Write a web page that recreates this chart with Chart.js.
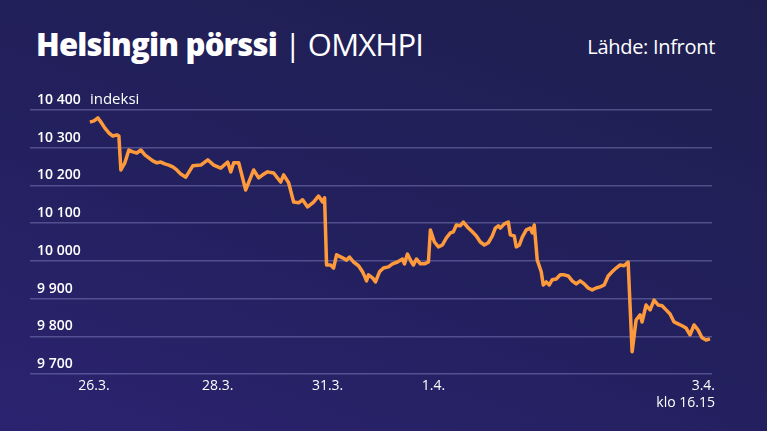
<!DOCTYPE html>
<html>
<head>
<meta charset="utf-8">
<script src="https://cdn.jsdelivr.net/npm/chart.js@4/dist/chart.umd.min.js"></script>
<style>
  html, body { margin: 0; padding: 0; }
  body {
    width: 767px; height: 431px; overflow: hidden;
    background: linear-gradient(20deg, #2c2370 0%, #23205e 45%, #1e1f4f 100%);
    font-family: "Open Sans", sans-serif; color: #fff; position: relative;
  }
  #title { position: absolute; left: 36px; top: 23px; font-size: 31px; letter-spacing: -0.8px; }
  #title b { font-weight: 800; }
  #title span { font-weight: 400; }
  #source { position: absolute; right: 52px; top: 33px; font-size: 20px; letter-spacing: -0.3px; }
  #wrap { position: absolute; left: 0; top: 0; width: 767px; height: 431px; }
</style>
</head>
<body>
<div id="title"><b>Helsingin pörssi</b> <span>| OMXHPI</span></div>
<div id="source">Lähde: Infront</div>
<div id="wrap"><canvas id="chart" width="767" height="431"></canvas></div>
<script>
// Aika-akseli (kaupankäyntiaika, suhteellinen) ja indeksin arvot
const times = [0,4,8,11,15,19,23,27,29,31,35,39,43,47,51,55,59,63,67,71,75,79,83,87,91,96,103,111,118,124,131,138,141,144,149,156,164,169,174,178,184,191,194,199,204,209,213,218,224,229,233,235,237,241,244,247,253,257,260,264,269,273,275,277,279,283,286,290,294,299,303,308,313,315,318,322,324,327,331,335,339,341,345,349,353,357,361,364,367,371,374,379,383,387,391,395,399,403,406,409,411,415,419,421,425,427,430,433,437,441,443,445,448,452,454,457,460,463,467,471,475,479,483,487,491,495,499,503,507,511,515,519,523,527,531,535,539,543,547,551,553,557,561,565,569,573,577,581,585,589,593,597,601,605,609,613,617,621];
const values = [10368,10371,10379,10368,10352,10339,10331,10334,10331,10241,10260,10294,10289,10286,10294,10281,10273,10265,10260,10262,10257,10254,10249,10241,10230,10222,10252,10254,10268,10254,10246,10262,10236,10260,10260,10188,10241,10220,10230,10236,10233,10209,10228,10207,10156,10154,10162,10143,10156,10172,10156,10167,9989,9989,9981,10016,10008,10002,10010,9997,9987,9971,9960,9947,9963,9955,9944,9971,9981,9984,9992,9997,10005,9992,10018,9997,9989,10005,9992,9992,9997,10082,10050,10037,10042,10061,10074,10077,10095,10093,10103,10087,10077,10066,10050,10042,10048,10066,10087,10093,10087,10098,10103,10069,10066,10037,10042,10063,10082,10087,10074,10095,10002,9971,9936,9944,9936,9950,9952,9963,9963,9960,9947,9939,9947,9939,9928,9923,9928,9931,9936,9960,9971,9981,9989,9987,9997,9759,9843,9857,9838,9883,9870,9896,9883,9881,9870,9859,9838,9833,9828,9822,9804,9830,9817,9796,9790,9793];
const yTicks = [9700, 9800, 9900, 10000, 10100, 10200, 10300, 10400];
const dayTicks = [4, 128, 238, 344, 623];
const dayLabels = [['26.3.'], ['28.3.'], ['31.3.'], ['1.4.'], ['3.4.', 'klo 16.15']];

const fmt = v => String(v).replace(/\B(?=(\d{3})+(?!\d))/g, ' ');

const labelPlugin = {
  id: 'labels',
  afterDraw(chart) {
    const ctx = chart.ctx, x = chart.scales.x, y = chart.scales.y;
    ctx.save();
    ctx.fillStyle = '#fff';
    ctx.font = '600 14px "Open Sans"';
    ctx.textBaseline = 'bottom';
    ctx.textAlign = 'left';
    yTicks.forEach(v => ctx.fillText(fmt(v), chart.chartArea.left - 1, y.getPixelForValue(v) - 3));
    ctx.font = '15px "Open Sans"';
    ctx.fillText('indeksi', x.getPixelForValue(0), y.getPixelForValue(10400) - 3);
    ctx.font = '500 14px "Open Sans"';
    ctx.textBaseline = 'top';
    dayTicks.forEach((t, i) => {
      const last = i === dayTicks.length - 1;
      ctx.textAlign = last ? 'right' : 'center';
      dayLabels[i].forEach((s, j) => ctx.fillText(s, x.getPixelForValue(t) + (last ? 3 : 0), chart.chartArea.bottom + 5 + j * 17));
    });
    ctx.restore();
  }
};

new Chart(document.getElementById('chart'), {
  type: 'line',
  data: {
    datasets: [{
      data: times.map((t, i) => ({ x: t, y: values[i] })),
      borderColor: '#ff9a3c',
      borderWidth: 3.5,
      pointRadius: 0,
      tension: 0,
      borderJoinStyle: 'round'
    }]
  },
  options: {
    responsive: false,
    animation: false,
    layout: { padding: { left: 30, right: 55, top: 110, bottom: 49 } },
    plugins: { legend: { display: false }, tooltip: { enabled: false } },
    scales: {
      x: {
        type: 'linear', min: -52, max: 623,
        grid: { display: false }, border: { display: false },
        ticks: { display: false }
      },
      y: {
        min: 9700, max: 10400,
        afterBuildTicks: s => { s.ticks = yTicks.map(v => ({ value: v })); },
        grid: { color: 'rgba(170,170,230,0.35)', lineWidth: 1.5 },
        border: { display: false },
        ticks: { display: false }
      }
    }
  },
  plugins: [labelPlugin]
});
</script>
</body>
</html>
